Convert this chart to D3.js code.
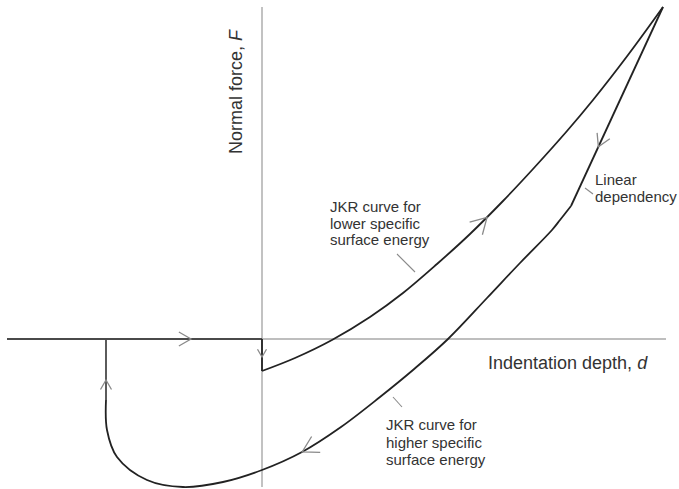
<!DOCTYPE html>
<html>
<head>
<meta charset="utf-8">
<script src="https://cdn.jsdelivr.net/npm/d3@7"></script>
<style>
  html, body { margin: 0; padding: 0; background: #fff; }
  svg { display: block; }
  text { font-family: "Liberation Sans", Arial, Helvetica, sans-serif; fill: #333; }
</style>
</head>
<body>
<svg id="chart" width="679" height="489"></svg>
<script>
// ---- data (indentation depth d, normal force F; arbitrary units) ----
const approachD = [-2.55, 0];
const approachF = [0, 0];
const jumpInD = [0, 0];
const jumpInF = [0, -0.32];
const lowerEnergyD = [0, 0.33, 0.70, 1.08, 1.41, 1.75, 2.08, 2.41, 2.71, 3.05, 3.31, 3.66, 4.01];
const lowerEnergyF = [-0.32, -0.19, -0.01, 0.22, 0.46, 0.75, 1.05, 1.38, 1.70, 2.08, 2.39, 2.84, 3.32];
const linearD = [4.01, 3.09];
const linearF = [3.32, 1.33];
const higherEnergyD = [3.09, 2.98, 2.90, 2.58, 2.25, 1.86, 1.51, 1.18, 0.79, 0.40, 0.00, -0.39, -0.79, -1.15, -1.45, -1.55, -1.56];
const higherEnergyF = [1.33, 1.19, 1.09, 0.76, 0.41, 0.00, -0.31, -0.58, -0.88, -1.13, -1.31, -1.43, -1.48, -1.41, -1.18, -0.91, -0.61];
const pullOffD = [-1.56, -1.56];
const pullOffF = [-0.61, 0];

// direction arrows: which path, which coordinate locates them, value, size
const arrowPaths = ["approach", "jumpIn", "lowerEnergy", "linear", "higherEnergy", "pullOff"];
const arrowAxes  = ["d", "F", "d", "F", "d", "F"];
const arrowAt    = [-0.71, -0.18, 2.25, 1.92, 0.40, -0.41];
const arrowSize  = [14, 9, 18, 14, 18, 11];

// text labels
const yLabel = "Normal force, ";
const yLabelVar = "F";
const xLabel = "Indentation depth, ";
const xLabelVar = "d";
const noteLower = ["JKR curve for", "lower specific", "surface energy"];
const noteHigher = ["JKR curve for", "higher specific", "surface energy"];
const noteLinear = ["Linear", "dependency"];
// note anchors (text start) and leader lines, in data units
const noteLowerPos = [0.68, 1.27];
const noteHigherPos = [1.24, -0.91];
const noteLinearPos = [3.33, 1.54];
const leaderLowerD = [1.35, 1.53], leaderLowerF = [0.85, 0.67];
const leaderHigherD = [1.31, 1.40], leaderHigherF = [-0.58, -0.68];
const leaderLinearD = [3.23, 3.31], leaderLinearF = [1.51, 1.45];

// ---- scales ----
const svg = d3.select("#chart");
const x = d3.scaleLinear().domain([-2.55, 4.04]).range([7, 666]);
const y = d3.scaleLinear().domain([3.32, -1.48]).range([7, 487]);

const zip = (a, b) => a.map((v, i) => [v, b[i]]);
const lineStraight = d3.line().x(p => x(p[0])).y(p => y(p[1]));
const lineCurve = d3.line().x(p => x(p[0])).y(p => y(p[1])).curve(d3.curveCatmullRom.alpha(0.5));

// ---- axes ----
svg.append("line")
  .attr("x1", x(0)).attr("x2", x(0)).attr("y1", y(3.32)).attr("y2", y(-1.48))
  .attr("stroke", "#a8a8a8").attr("stroke-width", 1.4);
svg.append("line")
  .attr("x1", x(0)).attr("x2", x(4.04)).attr("y1", y(0)).attr("y2", y(0))
  .attr("stroke", "#a8a8a8").attr("stroke-width", 1.4);

// ---- curves ----
const paths = {};
function addPath(name, pts, gen, color, width) {
  paths[name] = svg.append("path")
    .attr("d", gen(pts))
    .attr("fill", "none")
    .attr("stroke", color)
    .attr("stroke-width", width)
    .attr("stroke-linejoin", "round");
}
addPath("approach", zip(approachD, approachF), lineStraight, "#4a4a4a", 2.2);
addPath("jumpIn", zip(jumpInD, jumpInF), lineStraight, "#222", 1.8);
addPath("lowerEnergy", zip(lowerEnergyD, lowerEnergyF), lineCurve, "#222", 1.8);
addPath("linear", zip(linearD, linearF), lineStraight, "#222", 1.8);
addPath("higherEnergy", zip(higherEnergyD, higherEnergyF), lineCurve, "#222", 1.8);
addPath("pullOff", zip(pullOffD, pullOffF), lineStraight, "#4a4a4a", 1.8);

// ---- arrows placed on paths ----
arrowPaths.forEach((name, i) => {
  const node = paths[name].node();
  const len = node.getTotalLength();
  const target = arrowAxes[i] === "d" ? x(arrowAt[i]) : y(arrowAt[i]);
  let best = 0, bestErr = Infinity;
  for (let l = 0; l <= len; l += 0.5) {
    const p = node.getPointAtLength(l);
    const v = arrowAxes[i] === "d" ? p.x : p.y;
    const e = Math.abs(v - target);
    if (e < bestErr) { bestErr = e; best = l; }
  }
  const tip = node.getPointAtLength(best);
  const a = node.getPointAtLength(Math.max(0, best - 2));
  const b = node.getPointAtLength(Math.min(len, best + 2));
  const ang = Math.atan2(b.y - a.y, b.x - a.x);
  const back = ang + Math.PI;
  const half = 30 * Math.PI / 180;
  const L = arrowSize[i];
  const p1 = [tip.x + L * Math.cos(back - half), tip.y + L * Math.sin(back - half)];
  const p2 = [tip.x + L * Math.cos(back + half), tip.y + L * Math.sin(back + half)];
  svg.append("path")
    .attr("d", `M${p1[0]},${p1[1]}L${tip.x},${tip.y}L${p2[0]},${p2[1]}`)
    .attr("fill", "none").attr("stroke", "#8a8a8a").attr("stroke-width", 1.3);
});

// ---- leader lines ----
[[leaderLowerD, leaderLowerF], [leaderHigherD, leaderHigherF], [leaderLinearD, leaderLinearF]].forEach(([dd, ff]) => {
  svg.append("path").attr("d", lineStraight(zip(dd, ff)))
    .attr("fill", "none").attr("stroke", "#8a8a8a").attr("stroke-width", 1.1);
});

// ---- notes ----
function note(lines, pos, lh) {
  const t = svg.append("text").attr("font-size", 15);
  lines.forEach((s, i) => {
    t.append("tspan").attr("x", x(pos[0])).attr("y", y(pos[1]) + i * lh).text(s);
  });
}
note(noteLower, noteLowerPos, 16.5);
note(noteHigher, noteHigherPos, 17.5);
note(noteLinear, noteLinearPos, 17);

// ---- axis labels ----
const xl = svg.append("text").attr("font-size", 18)
  .attr("x", x(2.26)).attr("y", y(-0.30));
xl.append("tspan").text(xLabel);
xl.append("tspan").attr("font-style", "italic").text(xLabelVar);

const yl = svg.append("text").attr("font-size", 18)
  .attr("text-anchor", "middle")
  .attr("transform", `translate(${x(-0.20)},${y(2.47)}) rotate(-90)`);
yl.append("tspan").text(yLabel);
yl.append("tspan").attr("font-style", "italic").text(yLabelVar);
</script>
</body>
</html>
